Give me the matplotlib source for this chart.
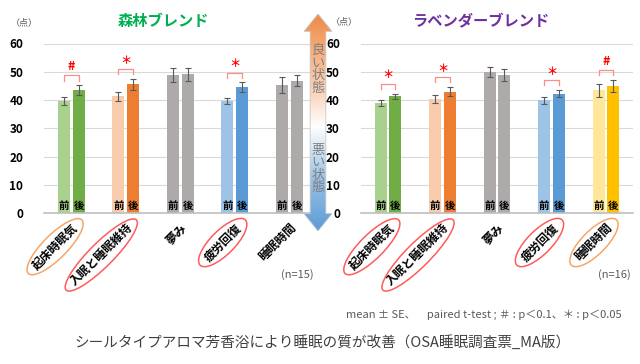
import numpy as np
import matplotlib
matplotlib.use('Agg')
import matplotlib.pyplot as plt
from matplotlib.patches import Ellipse, Polygon
from matplotlib.transforms import IdentityTransform

plt.rcParams['font.family'] = ['Noto Sans CJK JP', 'DejaVu Sans']

# データ（OSA睡眠調査票 MA版、mean ± SE）
categories = ['起床時眠気', '入眠と睡眠維持', '夢み', '疲労回復', '睡眠時間']

forest_pre = [39.6, 41.4, 48.7, 39.6, 45.3]
forest_post = [43.5, 45.5, 49.1, 44.6, 46.9]
forest_pre_se = [1.5, 1.6, 2.5, 1.0, 2.7]
forest_post_se = [1.7, 1.9, 2.4, 1.6, 1.9]
forest_sig = ['#', '＊', '', '＊', '']

lav_pre = [38.9, 40.2, 49.9, 39.9, 43.4]
lav_post = [41.3, 42.9, 48.8, 42.3, 45.0]
lav_pre_se = [1.0, 1.4, 1.9, 1.3, 2.2]
lav_post_se = [1.0, 1.6, 2.1, 1.2, 2.0]
lav_sig = ['＊', '＊', '', '＊', '#']

yticks = [0, 10, 20, 30, 40, 50, 60]

# 色
GREEN = ('#A9D18E', '#70AD47')
ORANGE = ('#F8CBAD', '#ED7D31')
GRAY = ('#AEAAAA', '#AEAAAA')
BLUE = ('#9DC3E6', '#5B9BD5')
YELLOW = ('#FFE699', '#FFC000')
forest_colors = [GREEN, ORANGE, GRAY, BLUE, GRAY]
lav_colors = [GREEN, ORANGE, GRAY, BLUE, YELLOW]
RED_RING = '#FF5B5B'
ORANGE_RING = '#F4A66A'
forest_rings = [ORANGE_RING, RED_RING, None, RED_RING, None]
lav_rings = [RED_RING, RED_RING, None, RED_RING, ORANGE_RING]

W, H = 640, 364
fig = plt.figure(figsize=(6.4, 3.64), dpi=100)


def draw_panel(ax, pre, post, pre_se, post_se, sig, colors, n_text):
    x = np.arange(len(categories))
    off, bw = 0.1375, 0.22
    for i in range(len(x)):
        ax.bar(x[i] - off, pre[i], bw, color=colors[i][0], zorder=2)
        ax.bar(x[i] + off, post[i], bw, color=colors[i][1], zorder=2)
    ax.errorbar(x - off, pre, yerr=pre_se, fmt='none', ecolor='#595959',
                elinewidth=0.8, capsize=2, capthick=0.8, zorder=3)
    ax.errorbar(x + off, post, yerr=post_se, fmt='none', ecolor='#595959',
                elinewidth=0.8, capsize=2, capthick=0.8, zorder=3)
    for i in range(len(x)):
        ax.text(x[i] - off, 0.6, '前', ha='center', va='bottom', fontsize=7.5,
                fontweight='bold', zorder=4)
        ax.text(x[i] + off, 0.6, '後', ha='center', va='bottom', fontsize=7.5,
                fontweight='bold', zorder=4)
        if sig[i]:
            top = max(pre[i] + pre_se[i], post[i] + post_se[i]) + 3.5
            ax.plot([x[i] - off, x[i] - off, x[i] + off, x[i] + off],
                    [top - 1.8, top, top, top - 1.8], color='#FF8C8C', lw=0.9, zorder=3)
            fs = 9 if sig[i] == '#' else 8
            ax.text(x[i], top + 0.9, sig[i], ha='center', va='bottom',
                    color='#FF0000', fontsize=fs, fontweight='bold')
    ax.set_xlim(-0.5, len(x) - 0.5)
    ax.set_ylim(0, 60)
    ax.set_yticks(yticks)
    ax.set_yticklabels([str(v) for v in yticks], fontsize=8.5, fontweight='bold')
    ax.tick_params(axis='y', length=0, pad=15)
    ax.set_xticks(x)
    ax.set_xticklabels(categories, rotation=45, ha='right', rotation_mode='anchor',
                       fontsize=8.5, fontweight='bold')
    ax.tick_params(axis='x', length=0, pad=6)
    ax.grid(axis='y', color='#D9D9D9', lw=0.8, zorder=0)
    ax.set_axisbelow(True)
    for s in ['top', 'right', 'left']:
        ax.spines[s].set_visible(False)
    ax.spines['bottom'].set_color('#BFBFBF')
    ax.spines['bottom'].set_linewidth(1.2)
    ax.text(0.99, -0.366, n_text, transform=ax.transAxes, ha='right', va='center',
            fontsize=8, color='#595959')


axL = fig.add_axes([44 / W, 1 - 213 / H, 272.5 / W, 169.5 / H])
axR = fig.add_axes([360.75 / W, 1 - 213 / H, 272.5 / W, 169.5 / H])
draw_panel(axL, forest_pre, forest_post, forest_pre_se, forest_post_se, forest_sig,
           forest_colors, '(n=15)')
draw_panel(axR, lav_pre, lav_post, lav_pre_se, lav_post_se, lav_sig,
           lav_colors, '(n=16)')

fig.text(163 / W, 1 - 21 / H, '森林ブレンド', ha='center', va='center',
         fontsize=11, fontweight='bold', color='#00B050')
fig.text(481 / W, 1 - 21 / H, 'ラベンダーブレンド', ha='center', va='center',
         fontsize=11, fontweight='bold', color='#7030A0')
fig.text(24 / W, 1 - 23 / H, '（点）', ha='center', va='center', fontsize=6.5,
         color='#595959')
fig.text(344 / W, 1 - 22 / H, '（点）', ha='center', va='center', fontsize=6.5,
         color='#595959')

# 中央のグラデーション矢印（良い状態 ↔ 悪い状態）
axA = fig.add_axes([304 / W, 1 - 231 / H, 28 / W, 217 / H])
axA.set_xlim(0, 1)
axA.set_ylim(0, 1)
axA.axis('off')
hh = 0.08
arrow_pts = [(0.5, 1.0), (1.0, 1 - hh), (0.78, 1 - hh), (0.78, hh), (1.0, hh),
             (0.5, 0.0), (0.0, hh), (0.22, hh), (0.22, 1 - hh), (0.0, 1 - hh)]
grad_cmap = matplotlib.colors.LinearSegmentedColormap.from_list(
    'arrow', [(0.0, '#5B9BD5'), (0.25, '#9DC3E6'), (0.48, '#FFFFFF'),
              (0.62, '#FBD9C2'), (1.0, '#EF8A45')])
grad = np.linspace(0, 1, 256).reshape(-1, 1)
img = axA.imshow(grad, extent=[0, 1, 0, 1], origin='lower', cmap=grad_cmap,
                 aspect='auto')
poly = Polygon(arrow_pts, closed=True, transform=axA.transData)
img.set_clip_path(poly)
axA.add_patch(Polygon(arrow_pts, closed=True, fill=False, edgecolor='#C8C8C8', lw=0.6))
axA.text(0.5, 0.745, '良\nい\n状\n態', ha='center', va='center', fontsize=9.5,
         color='#7F7F7F', linespacing=0.95)
axA.text(0.5, 0.285, '悪\nい\n状\n態', ha='center', va='center', fontsize=9.5,
         color='#7F7F7F', linespacing=0.95)

fig.text(622 / W, 1 - 315 / H, 'mean ± SE、　paired t-test ; ＃ : p＜0.1、＊ : p＜0.05',
         ha='right', va='center', fontsize=8, color='#595959')
fig.text(323 / W, 1 - 342 / H, 'シールタイプアロマ芳香浴により睡眠の質が改善（OSA睡眠調査票_MA版）',
         ha='center', va='center', fontsize=10.5, color='#404040')

# 項目名を囲む楕円
fig.canvas.draw()
renderer = fig.canvas.get_renderer()
for ax, rings in [(axL, forest_rings), (axR, lav_rings)]:
    for lab, col in zip(ax.get_xticklabels(), rings):
        if col is None:
            continue
        bb = lab.get_window_extent(renderer)
        cx, cy = (bb.x0 + bb.x1) / 2, (bb.y0 + bb.y1) / 2
        length = bb.width * np.sqrt(2) - 12
        e = Ellipse((cx, cy), length + 16, 24, angle=45, fill=False,
                    edgecolor=col, lw=1.1, transform=IdentityTransform())
        fig.add_artist(e)

fig.savefig('out.png', dpi=100)
